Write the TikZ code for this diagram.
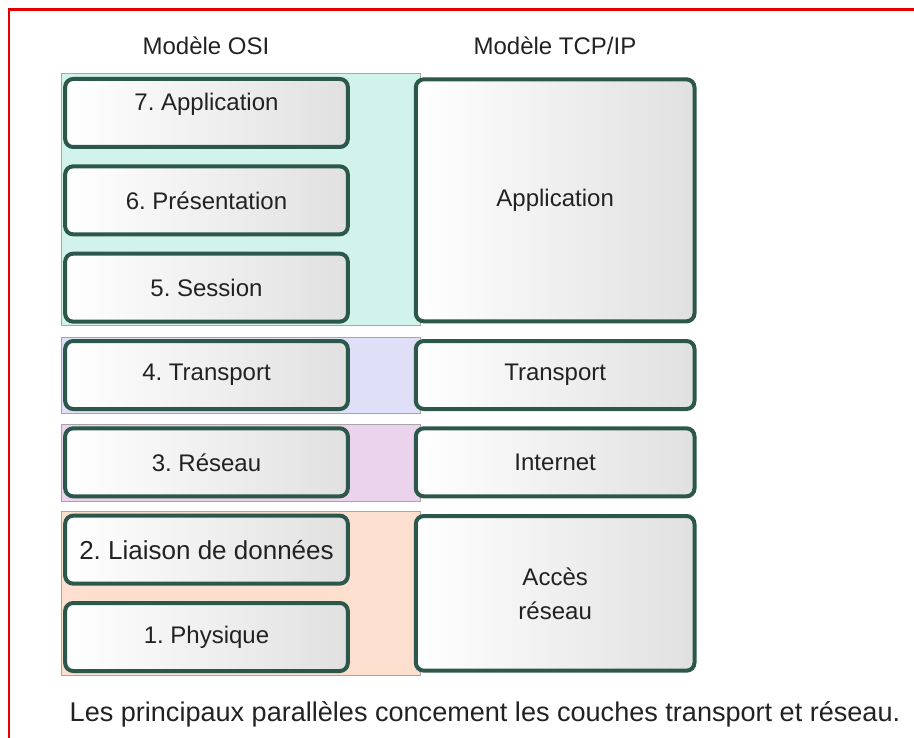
\documentclass[tikz,border=0pt]{standalone}
\usepackage{fontspec}
\setmainfont{Liberation Sans}
\usepackage{tikz}
\usetikzlibrary{positioning,calc,backgrounds,shadows}
\usepackage{xcolor}
\frenchspacing
\definecolor{cEdge}{RGB}{44,88,76}
\definecolor{cTeal}{RGB}{210,243,235}
\definecolor{cLav}{RGB}{223,223,247}
\definecolor{cPink}{RGB}{235,211,237}
\definecolor{cPeach}{RGB}{253,223,207}
\definecolor{cFrame}{RGB}{228,0,0}
\definecolor{cText}{RGB}{34,34,34}
\tikzset{
	layerbox/.style={draw=cEdge, line width=3pt, rounded corners=6pt,
		left color=white, right color=black!12, inner sep=0pt,
		minimum height=51pt, align=center, text=cText,
		font=\fontsize{18pt}{21pt}\selectfont,
		drop shadow={shadow xshift=1pt, shadow yshift=-1pt, opacity=0.25}},
	osibox/.style={layerbox, minimum width=212pt},
	tcpbox/.style={layerbox, minimum width=209pt},
	band/.style={draw=black!35, line width=0.4pt},
	hdr/.style={text=cText, font=\fontsize{18pt}{21pt}\selectfont},
}
\begin{document}
\begin{tikzpicture}[x=0.75pt, y=-0.75pt, node distance=11.5pt]
	\useasboundingbox (0,0) rectangle (914,738);
	\node[hdr] (hosi) at (206,46) {Modèle OSI};
	\node[hdr] (htcp) at (555,46) {Modèle TCP/IP};
	\node[osibox] (osi7) at (206.5,113) {\raisebox{2pt}[0pt][0pt]{7. Application}};
	\node[osibox, below=of osi7] (osi6) {6. Présentation};
	\node[osibox, below=of osi6] (osi5) {5. Session};
	\node[osibox, below=of osi5] (osi4) {4. Transport};
	\node[osibox, below=of osi4] (osi3) {3. Réseau};
	\node[osibox, below=of osi3, font=\fontsize{19.5pt}{21pt}\selectfont] (osi2) {2. Liaison de données};
	\node[osibox, below=of osi2] (osi1) {1. Physique};
	\coordinate (accmid) at ($(osi2.south east)!0.5!(osi1.north east)$);
	\node[tcpbox, minimum height=181.5pt, right=48pt of osi6] (tcpapp) {Application};
	\node[tcpbox, right=48pt of osi4] (tcptr) {Transport};
	\node[tcpbox, right=48pt of osi3] (tcpin) {Internet};
	\node[tcpbox, minimum height=116pt, right=48pt of accmid] (tcpacc) {Accès\\[4.5pt]réseau};
	\begin{scope}[on background layer]
		\draw[band, fill=cTeal] ($(osi7.north west)+(-2,-4)$) rectangle ($(tcpapp.south west)+(6,2)$);
		\draw[band, fill=cLav] ($(osi4.north west)+(-2,-2)$) rectangle ($(tcptr.south west)+(6,2)$);
		\draw[band, fill=cPink] ($(osi3.north west)+(-2,-2)$) rectangle ($(tcpin.south west)+(6,3)$);
		\draw[band, fill=cPeach] ($(osi2.north west)+(-2,-2)$) rectangle ($(tcpacc.south west)+(6,3)$);
	\end{scope}
	\node[hdr, font=\fontsize{20.3pt}{23pt}\selectfont] (note) at (485,714) {Les principaux parallèles concement les couches transport et réseau.};
	\draw[cFrame, line width=2.2pt] (9,738) -- (9,9.5) -- (914,9.5);
\end{tikzpicture}
\end{document}
